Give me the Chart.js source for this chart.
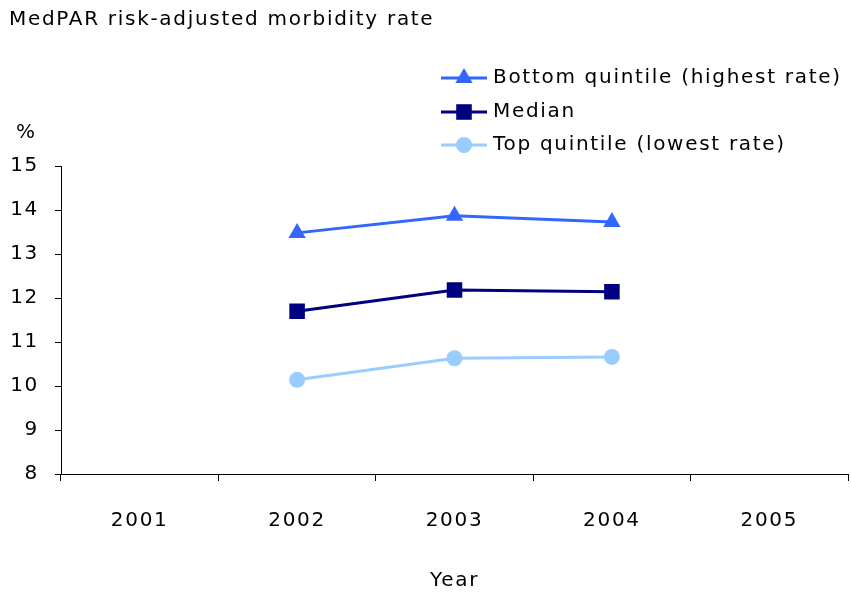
<!DOCTYPE html>
<html>
<head>
<meta charset="utf-8">
<script src="https://cdn.jsdelivr.net/npm/chart.js@4/dist/chart.umd.min.js"></script>
<style>
  html, body { margin: 0; padding: 0; background: #fff; overflow: hidden; }
  canvas { display: block; }
</style>
</head>
<body>
<canvas id="morbidity" width="851" height="597"></canvas>
<script>
let years = ['2001', '2002', '2003', '2004', '2005'];

let bottomQuintile = [null, 13.48, 13.87, 13.73, null];
let medianRate = [null, 11.70, 12.18, 12.14, null];
let topQuintile = [null, 10.14, 10.63, 10.66, null];

let seriesNames = [
    'Bottom quintile (highest rate)',
    'Median',
    'Top quintile (lowest rate)'
];

let seriesColors = ['#3366ff', '#000080', '#99ccff'];
let seriesMarkers = ['triangle', 'rect', 'circle'];
let markerSizes = [10, 11, 8];

let yTicks = [8, 9, 10, 11, 12, 13, 14, 15];

const textFont = 'DejaVu Sans, Verdana, sans-serif';
const spacing = '1.7px';

function makeSet(i, values) {
    // empty years get radius 0 so they don't push the plot area inwards
    const r = ctx => (ctx.raw == null ? 0 : markerSizes[i]);
    return {
        label: seriesNames[i],
        data: values,
        borderColor: seriesColors[i],
        backgroundColor: seriesColors[i],
        borderWidth: 3,
        pointStyle: seriesMarkers[i],
        pointRadius: r,
        pointHoverRadius: r,
        pointBorderWidth: 0,
        tension: 0
    };
}

// title, % label and the legend drawn on top of the canvas
const extras = {
    id: 'extras',
    beforeDraw(chart) {
        chart.ctx.letterSpacing = spacing;
    },
    afterDraw(chart) {
        const ctx = chart.ctx;
        ctx.save();
        ctx.letterSpacing = spacing;
        ctx.fillStyle = '#000';
        ctx.textBaseline = 'middle';
        ctx.textAlign = 'left';
        ctx.font = '20px ' + textFont;
        ctx.fillText('MedPAR risk-adjusted morbidity rate', 9, 20);
        ctx.fillText('%', 16, 133);

        const rows = [78, 112, 145];
        chart.data.datasets.forEach((ds, i) => {
            const y = rows[i];
            ctx.strokeStyle = ds.borderColor;
            ctx.lineWidth = 3;
            ctx.beginPath();
            ctx.moveTo(441, y);
            ctx.lineTo(487, y);
            ctx.stroke();
            ctx.fillStyle = ds.backgroundColor;
            Chart.helpers.drawPoint(ctx, {
                pointStyle: ds.pointStyle,
                radius: markerSizes[i],
                borderWidth: 0,
                rotation: 0
            }, 464, y);
            ctx.fillStyle = '#000';
            ctx.fillText(ds.label, 493, y);
        });
        ctx.restore();
    }
};

const config = {
    type: 'line',
    data: {
        labels: years,
        datasets: [
            makeSet(0, bottomQuintile),
            makeSet(1, medianRate),
            makeSet(2, topQuintile)
        ]
    },
    options: {
        responsive: false,
        animation: false,
        layout: { padding: { top: 166, right: 3, left: 0, bottom: 0 } },
        plugins: {
            legend: { display: false },
            tooltip: { enabled: false }
        },
        scales: {
            x: {
                offset: true,
                grid: {
                    offset: true,
                    drawOnChartArea: false,
                    drawTicks: true,
                    tickLength: 7,
                    tickColor: '#000'
                },
                border: { color: '#000', width: 1 },
                ticks: {
                    color: '#000',
                    padding: 28,
                    font: { family: textFont, size: 20 }
                },
                title: {
                    display: true,
                    text: 'Year',
                    color: '#000',
                    font: { family: textFont, size: 20 },
                    padding: { top: 0, bottom: 4 }
                },
                afterFit(scale) {
                    scale.height = 123;
                    scale.paddingLeft = 0;
                    scale.paddingRight = 0;
                }
            },
            y: {
                min: 8,
                max: 15,
                afterBuildTicks(scale) {
                    scale.ticks = yTicks.map(v => ({ value: v }));
                },
                grid: {
                    drawOnChartArea: false,
                    drawTicks: true,
                    tickLength: 6,
                    tickColor: '#000'
                },
                border: { color: '#000', width: 1 },
                ticks: {
                    color: '#000',
                    padding: 16,
                    font: { family: textFont, size: 20 }
                },
                afterFit(scale) { scale.width = 61; }
            }
        }
    },
    plugins: [extras]
};

const chart = new Chart(document.getElementById('morbidity'), config);
</script>
</body>
</html>
